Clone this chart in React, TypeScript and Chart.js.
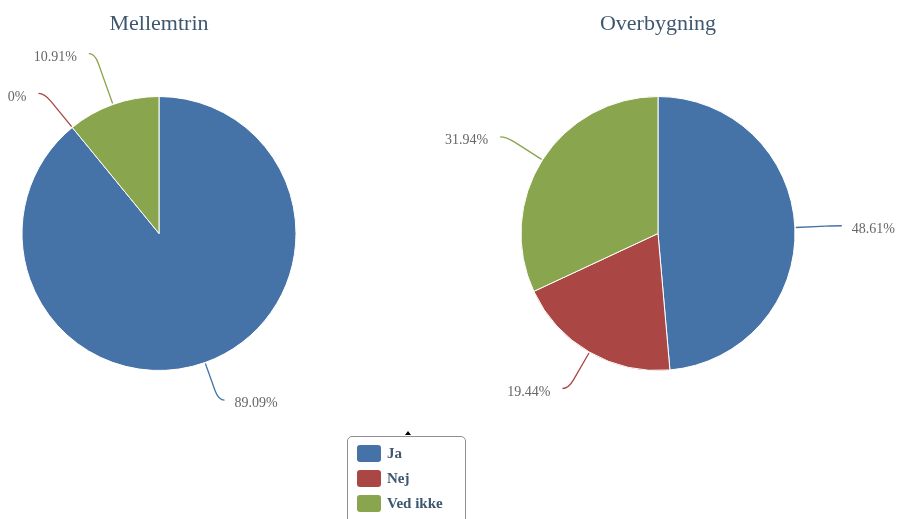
import React, { useEffect, useRef } from "react";
import { Chart, registerables } from "chart.js";

Chart.register(...registerables);

const categories = ["Ja", "Nej", "Ved ikke"];
const sliceColors = ["#4572A7", "#AA4643", "#89A54E"];
const mellemtrinValues = [89.09, 0, 10.91];
const overbygningValues = [48.61, 19.44, 31.94];
const chartTitles = ["Mellemtrin", "Overbygning"];

const W = 901;
const H = 519;
const R = 137;
const CY = 233.5;
const FONT = "'Liberation Serif', 'Times New Roman', serif";

const leaderPlugin = {
  id: "leaderLabels",
  afterDatasetsDraw(chart: any, _args: any, opts: any) {
    const ctx = chart.ctx;
    const meta = chart.getDatasetMeta(0);
    const values = chart.data.datasets[0].data;
    const colors = chart.data.datasets[0].backgroundColor;
    ctx.save();
    let centerX = 0;
    meta.data.forEach((arc: any, i: number) => {
      const p = arc.getProps(["x", "y", "startAngle", "endAngle", "outerRadius"], true);
      centerX = p.x;
      const mid = (p.startAngle + p.endAngle) / 2;
      const dx = Math.cos(mid);
      const dy = Math.sin(mid);
      const sgn = dx >= 0 ? 1 : -1;
      const L = opts.lengths[i];
      const r0 = p.outerRadius + 1;
      const rc = p.outerRadius + L;
      const x0 = p.x + dx * r0;
      const y0 = p.y + dy * r0;
      const xs = p.x + dx * (rc - 10);
      const ys = p.y + dy * (rc - 10);
      const xc = p.x + dx * rc;
      const yc = p.y + dy * rc;
      const xe = xc + sgn * 6;
      const ye = yc;
      ctx.beginPath();
      ctx.strokeStyle = colors[i];
      ctx.lineWidth = 1.3;
      ctx.moveTo(x0, y0);
      ctx.lineTo(xs, ys);
      ctx.quadraticCurveTo(xc, yc, xe, ye);
      ctx.stroke();
      ctx.font = `14px ${FONT}`;
      ctx.fillStyle = "#666666";
      ctx.textBaseline = "middle";
      ctx.textAlign = sgn > 0 ? "left" : "right";
      const gap = sgn > 0 ? 10 : 12;
      ctx.fillText(`${values[i]}%`, xe + sgn * gap, ye + 3.5);
    });
    ctx.font = `22px ${FONT}`;
    ctx.fillStyle = "#3E576F";
    ctx.textAlign = "center";
    ctx.textBaseline = "alphabetic";
    ctx.fillText(opts.title, centerX, 30);
    ctx.restore();
  },
};

function makeConfig(values: number[], title: string, cx: number, lengths: number[]) {
  const half = R + 0.5;
  return {
    type: "pie" as const,
    data: {
      labels: categories,
      datasets: [
        {
          data: values,
          backgroundColor: sliceColors,
          borderColor: "#ffffff",
          borderWidth: 1,
        },
      ],
    },
    options: {
      responsive: false,
      animation: false as const,
      events: [],
      layout: {
        padding: {
          left: cx - half,
          right: W - (cx + half),
          top: CY - half,
          bottom: H - (CY + half),
        },
      },
      plugins: {
        legend: { display: false },
        tooltip: { enabled: false },
        leaderLabels: { lengths, title },
      },
    },
    plugins: [leaderPlugin],
  };
}

function PieCanvas(props: { values: number[]; title: string; cx: number; lengths: number[] }) {
  const ref = useRef<HTMLCanvasElement>(null);
  useEffect(() => {
    if (!ref.current) return;
    const chart = new Chart(ref.current, makeConfig(props.values, props.title, props.cx, props.lengths) as any);
    return () => chart.destroy();
  }, []);
  return (
    <canvas
      ref={ref}
      width={W}
      height={H}
      style={{ position: "absolute", left: 0, top: 0, width: W, height: H }}
    />
  );
}

export default function App() {
  return (
    <div
      style={{
        position: "absolute",
        left: 0,
        top: 0,
        width: W,
        height: H,
        overflow: "hidden",
        background: "#ffffff",
      }}
    >
      <PieCanvas values={mellemtrinValues} title={chartTitles[0]} cx={159} lengths={[40, 44, 54]} />
      <PieCanvas values={overbygningValues} title={chartTitles[1]} cx={658} lengths={[41, 42, 43]} />
      <div
        style={{
          position: "absolute",
          left: 347,
          top: 436,
          width: 119,
          height: 110,
          border: "1px solid #909090",
          borderRadius: 5,
          background: "#ffffff",
          boxSizing: "border-box",
        }}
      >
        {categories.map((c, i) => (
          <div
            key={c}
            style={{
              position: "absolute",
              left: 9,
              top: 8 + i * 25,
              height: 17,
              display: "flex",
              alignItems: "center",
            }}
          >
            <div
              style={{
                width: 24,
                height: 17,
                borderRadius: 3,
                background: sliceColors[i],
              }}
            />
            <span
              style={{
                marginLeft: 6,
                font: `bold 15px ${FONT}`,
                color: "#3E576F",
                whiteSpace: "nowrap",
              }}
            >
              {c}
            </span>
          </div>
        ))}
      </div>
      <div
        style={{
          position: "absolute",
          left: 405,
          top: 431,
          width: 0,
          height: 0,
          borderLeft: "3px solid transparent",
          borderRight: "3px solid transparent",
          borderBottom: "4px solid #000",
        }}
      />
    </div>
  );
}
